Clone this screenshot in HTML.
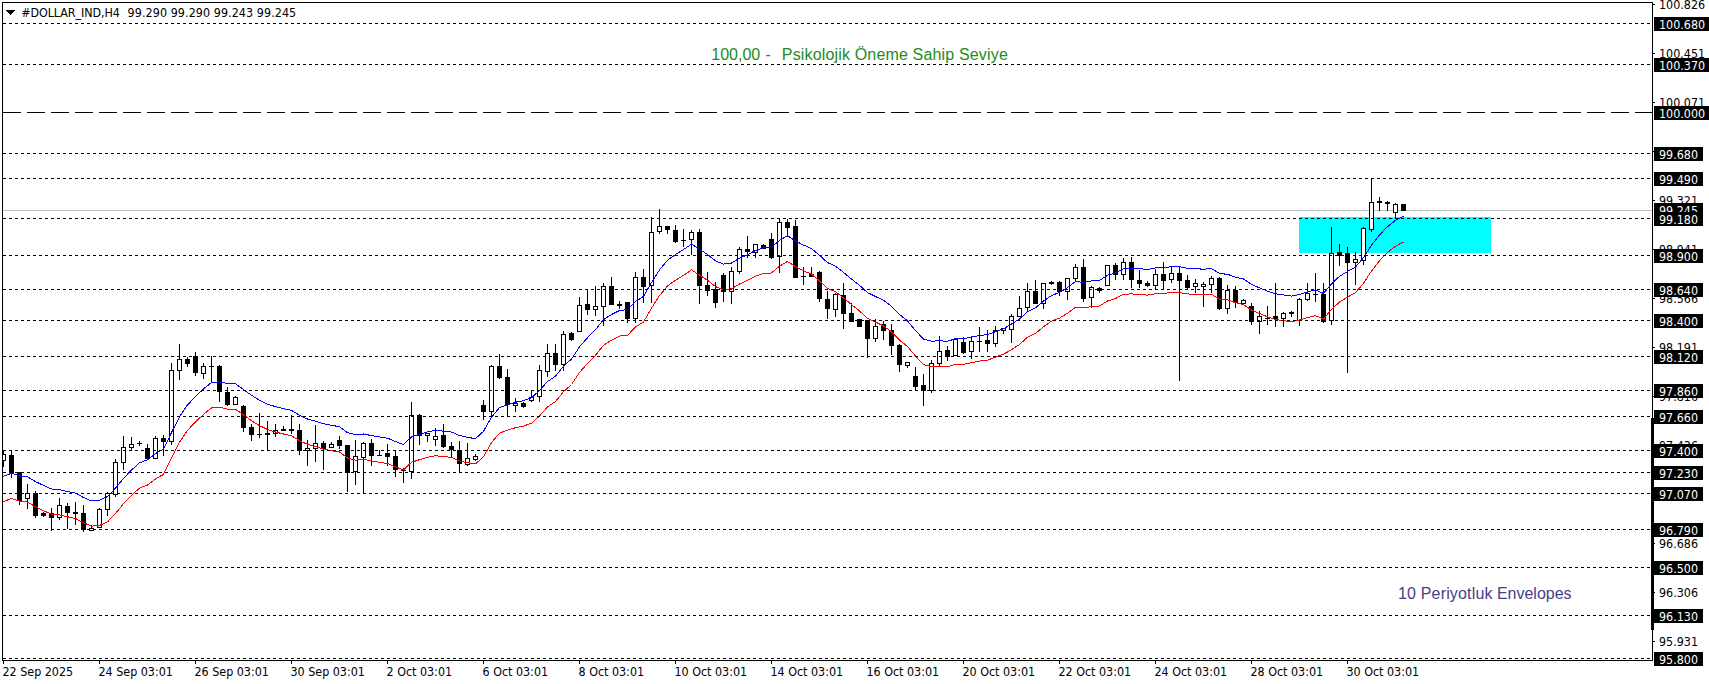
<!DOCTYPE html>
<html><head><meta charset="utf-8"><title>DOLLAR_IND H4</title><style>html,body{margin:0;padding:0;background:#fff;overflow:hidden}svg{display:block}</style></head><body>
<svg width="1709" height="684" viewBox="0 0 1709 684" shape-rendering="crispEdges">
<rect x="0" y="0" width="1709" height="684" fill="#fff"/>
<rect x="1299" y="217" width="192" height="36" fill="#00ffff"/>
<rect x="3" y="210" width="1649" height="1" fill="#c0c0c0"/>
<g fill="#000" clip-path="url(#plot)"><rect x="3" y="450" width="1" height="17"/><rect x="1" y="454" width="5" height="7"/><rect x="2" y="455" width="3" height="5" fill="#fff"/><rect x="11" y="450" width="1" height="28"/><rect x="9" y="455" width="5" height="18"/><rect x="19" y="472" width="1" height="33"/><rect x="17" y="472" width="5" height="29"/><rect x="27" y="484" width="1" height="25"/><rect x="25" y="493" width="5" height="6"/><rect x="26" y="494" width="3" height="4" fill="#fff"/><rect x="35" y="491" width="1" height="27"/><rect x="33" y="493" width="5" height="23"/><rect x="43" y="512" width="1" height="5"/><rect x="41" y="513" width="5" height="3"/><rect x="51" y="508" width="1" height="23"/><rect x="49" y="513" width="5" height="5"/><rect x="59" y="498" width="1" height="22"/><rect x="57" y="505" width="5" height="13"/><rect x="58" y="506" width="3" height="11" fill="#fff"/><rect x="67" y="503" width="1" height="26"/><rect x="65" y="506" width="5" height="7"/><rect x="75" y="502" width="1" height="23"/><rect x="73" y="512" width="5" height="2"/><rect x="83" y="505" width="1" height="27"/><rect x="81" y="513" width="5" height="17"/><rect x="91" y="525" width="1" height="6"/><rect x="89" y="528" width="5" height="3"/><rect x="90" y="529" width="3" height="1" fill="#fff"/><rect x="99" y="508" width="1" height="20"/><rect x="97" y="509" width="5" height="19"/><rect x="98" y="510" width="3" height="17" fill="#fff"/><rect x="107" y="492" width="1" height="24"/><rect x="105" y="493" width="5" height="17"/><rect x="106" y="494" width="3" height="15" fill="#fff"/><rect x="115" y="459" width="1" height="38"/><rect x="113" y="462" width="5" height="33"/><rect x="114" y="463" width="3" height="31" fill="#fff"/><rect x="123" y="436" width="1" height="34"/><rect x="121" y="447" width="5" height="16"/><rect x="122" y="448" width="3" height="14" fill="#fff"/><rect x="131" y="437" width="1" height="14"/><rect x="129" y="444" width="5" height="4"/><rect x="130" y="445" width="3" height="2" fill="#fff"/><rect x="139" y="441" width="1" height="5"/><rect x="137" y="443" width="5" height="1"/><rect x="147" y="444" width="1" height="15"/><rect x="145" y="448" width="5" height="11"/><rect x="155" y="436" width="1" height="23"/><rect x="153" y="438" width="5" height="21"/><rect x="154" y="439" width="3" height="19" fill="#fff"/><rect x="163" y="435" width="1" height="21"/><rect x="161" y="438" width="5" height="4"/><rect x="171" y="363" width="1" height="82"/><rect x="169" y="370" width="5" height="72"/><rect x="170" y="371" width="3" height="70" fill="#fff"/><rect x="179" y="344" width="1" height="36"/><rect x="177" y="359" width="5" height="12"/><rect x="178" y="360" width="3" height="10" fill="#fff"/><rect x="187" y="357" width="1" height="10"/><rect x="185" y="359" width="5" height="5"/><rect x="195" y="352" width="1" height="24"/><rect x="193" y="356" width="5" height="17"/><rect x="203" y="363" width="1" height="16"/><rect x="201" y="366" width="5" height="8"/><rect x="202" y="367" width="3" height="6" fill="#fff"/><rect x="211" y="356" width="1" height="26"/><rect x="209" y="366" width="5" height="1"/><rect x="219" y="365" width="1" height="37"/><rect x="217" y="366" width="5" height="26"/><rect x="227" y="387" width="1" height="19"/><rect x="225" y="392" width="5" height="13"/><rect x="235" y="396" width="1" height="9"/><rect x="233" y="397" width="5" height="8"/><rect x="234" y="398" width="3" height="6" fill="#fff"/><rect x="243" y="405" width="1" height="27"/><rect x="241" y="406" width="5" height="22"/><rect x="251" y="424" width="1" height="17"/><rect x="249" y="427" width="5" height="8"/><rect x="259" y="413" width="1" height="25"/><rect x="257" y="434" width="5" height="1"/><rect x="267" y="421" width="1" height="30"/><rect x="265" y="433" width="5" height="2"/><rect x="275" y="424" width="1" height="13"/><rect x="273" y="430" width="5" height="4"/><rect x="274" y="431" width="3" height="2" fill="#fff"/><rect x="283" y="426" width="1" height="5"/><rect x="281" y="429" width="5" height="2"/><rect x="291" y="415" width="1" height="19"/><rect x="289" y="429" width="5" height="2"/><rect x="299" y="424" width="1" height="31"/><rect x="297" y="430" width="5" height="21"/><rect x="307" y="440" width="1" height="26"/><rect x="305" y="448" width="5" height="3"/><rect x="306" y="449" width="3" height="1" fill="#fff"/><rect x="315" y="425" width="1" height="37"/><rect x="313" y="443" width="5" height="6"/><rect x="314" y="444" width="3" height="4" fill="#fff"/><rect x="323" y="441" width="1" height="29"/><rect x="321" y="443" width="5" height="6"/><rect x="331" y="442" width="1" height="6"/><rect x="329" y="444" width="5" height="4"/><rect x="330" y="445" width="3" height="2" fill="#fff"/><rect x="339" y="436" width="1" height="13"/><rect x="337" y="440" width="5" height="6"/><rect x="347" y="445" width="1" height="47"/><rect x="345" y="445" width="5" height="28"/><rect x="355" y="440" width="1" height="45"/><rect x="353" y="456" width="5" height="16"/><rect x="354" y="457" width="3" height="14" fill="#fff"/><rect x="363" y="442" width="1" height="52"/><rect x="361" y="443" width="5" height="15"/><rect x="362" y="444" width="3" height="13" fill="#fff"/><rect x="371" y="439" width="1" height="27"/><rect x="369" y="443" width="5" height="13"/><rect x="379" y="450" width="1" height="6"/><rect x="377" y="455" width="5" height="1"/><rect x="387" y="444" width="1" height="22"/><rect x="385" y="453" width="5" height="4"/><rect x="395" y="450" width="1" height="27"/><rect x="393" y="456" width="5" height="14"/><rect x="403" y="468" width="1" height="15"/><rect x="401" y="470" width="5" height="1"/><rect x="411" y="402" width="1" height="77"/><rect x="409" y="415" width="5" height="57"/><rect x="410" y="416" width="3" height="55" fill="#fff"/><rect x="419" y="414" width="1" height="31"/><rect x="417" y="415" width="5" height="21"/><rect x="427" y="433" width="1" height="9"/><rect x="425" y="433" width="5" height="3"/><rect x="426" y="434" width="3" height="1" fill="#fff"/><rect x="435" y="428" width="1" height="18"/><rect x="433" y="436" width="5" height="4"/><rect x="434" y="437" width="3" height="2" fill="#fff"/><rect x="443" y="424" width="1" height="24"/><rect x="441" y="435" width="5" height="12"/><rect x="451" y="442" width="1" height="15"/><rect x="449" y="446" width="5" height="4"/><rect x="459" y="441" width="1" height="32"/><rect x="457" y="450" width="5" height="14"/><rect x="467" y="443" width="1" height="23"/><rect x="465" y="458" width="5" height="7"/><rect x="466" y="459" width="3" height="5" fill="#fff"/><rect x="475" y="454" width="1" height="7"/><rect x="473" y="456" width="5" height="4"/><rect x="474" y="457" width="3" height="2" fill="#fff"/><rect x="483" y="400" width="1" height="20"/><rect x="481" y="405" width="5" height="7"/><rect x="491" y="365" width="1" height="52"/><rect x="489" y="366" width="5" height="46"/><rect x="490" y="367" width="3" height="44" fill="#fff"/><rect x="499" y="354" width="1" height="25"/><rect x="497" y="366" width="5" height="12"/><rect x="507" y="369" width="1" height="48"/><rect x="505" y="377" width="5" height="28"/><rect x="515" y="398" width="1" height="14"/><rect x="513" y="403" width="5" height="3"/><rect x="514" y="404" width="3" height="1" fill="#fff"/><rect x="523" y="402" width="1" height="6"/><rect x="521" y="403" width="5" height="4"/><rect x="531" y="390" width="1" height="12"/><rect x="529" y="397" width="5" height="4"/><rect x="530" y="398" width="3" height="2" fill="#fff"/><rect x="539" y="365" width="1" height="37"/><rect x="537" y="370" width="5" height="27"/><rect x="538" y="371" width="3" height="25" fill="#fff"/><rect x="547" y="344" width="1" height="33"/><rect x="545" y="353" width="5" height="19"/><rect x="546" y="354" width="3" height="17" fill="#fff"/><rect x="555" y="344" width="1" height="27"/><rect x="553" y="353" width="5" height="12"/><rect x="563" y="331" width="1" height="40"/><rect x="561" y="334" width="5" height="31"/><rect x="562" y="335" width="3" height="29" fill="#fff"/><rect x="571" y="332" width="1" height="9"/><rect x="569" y="333" width="5" height="7"/><rect x="579" y="297" width="1" height="35"/><rect x="577" y="305" width="5" height="27"/><rect x="578" y="306" width="3" height="25" fill="#fff"/><rect x="587" y="290" width="1" height="25"/><rect x="585" y="304" width="5" height="6"/><rect x="595" y="286" width="1" height="30"/><rect x="593" y="306" width="5" height="4"/><rect x="594" y="307" width="3" height="2" fill="#fff"/><rect x="603" y="283" width="1" height="43"/><rect x="601" y="286" width="5" height="21"/><rect x="602" y="287" width="3" height="19" fill="#fff"/><rect x="611" y="277" width="1" height="28"/><rect x="609" y="286" width="5" height="19"/><rect x="619" y="301" width="1" height="8"/><rect x="617" y="304" width="5" height="2"/><rect x="627" y="302" width="1" height="21"/><rect x="625" y="302" width="5" height="17"/><rect x="635" y="272" width="1" height="51"/><rect x="633" y="277" width="5" height="42"/><rect x="634" y="278" width="3" height="40" fill="#fff"/><rect x="643" y="269" width="1" height="34"/><rect x="641" y="277" width="5" height="10"/><rect x="651" y="217" width="1" height="86"/><rect x="649" y="232" width="5" height="54"/><rect x="650" y="233" width="3" height="52" fill="#fff"/><rect x="659" y="209" width="1" height="25"/><rect x="657" y="226" width="5" height="6"/><rect x="658" y="227" width="3" height="4" fill="#fff"/><rect x="667" y="226" width="1" height="8"/><rect x="665" y="226" width="5" height="4"/><rect x="675" y="225" width="1" height="18"/><rect x="673" y="230" width="5" height="12"/><rect x="683" y="229" width="1" height="18"/><rect x="681" y="240" width="5" height="1"/><rect x="691" y="230" width="1" height="25"/><rect x="689" y="232" width="5" height="8"/><rect x="690" y="233" width="3" height="6" fill="#fff"/><rect x="699" y="229" width="1" height="75"/><rect x="697" y="232" width="5" height="54"/><rect x="707" y="272" width="1" height="24"/><rect x="705" y="285" width="5" height="6"/><rect x="715" y="282" width="1" height="26"/><rect x="713" y="289" width="5" height="14"/><rect x="723" y="273" width="1" height="29"/><rect x="721" y="275" width="5" height="17"/><rect x="731" y="267" width="1" height="37"/><rect x="729" y="271" width="5" height="21"/><rect x="730" y="272" width="3" height="19" fill="#fff"/><rect x="739" y="247" width="1" height="27"/><rect x="737" y="249" width="5" height="23"/><rect x="738" y="250" width="3" height="21" fill="#fff"/><rect x="747" y="236" width="1" height="22"/><rect x="745" y="249" width="5" height="3"/><rect x="755" y="244" width="1" height="14"/><rect x="753" y="244" width="5" height="9"/><rect x="754" y="245" width="3" height="7" fill="#fff"/><rect x="763" y="244" width="1" height="5"/><rect x="761" y="245" width="5" height="4"/><rect x="771" y="233" width="1" height="26"/><rect x="769" y="239" width="5" height="19"/><rect x="779" y="218" width="1" height="55"/><rect x="777" y="222" width="5" height="35"/><rect x="778" y="223" width="3" height="33" fill="#fff"/><rect x="787" y="219" width="1" height="18"/><rect x="785" y="222" width="5" height="6"/><rect x="795" y="220" width="1" height="58"/><rect x="793" y="226" width="5" height="52"/><rect x="803" y="267" width="1" height="18"/><rect x="801" y="276" width="5" height="1"/><rect x="811" y="267" width="1" height="10"/><rect x="809" y="274" width="5" height="3"/><rect x="819" y="271" width="1" height="31"/><rect x="817" y="272" width="5" height="27"/><rect x="827" y="291" width="1" height="28"/><rect x="825" y="299" width="5" height="10"/><rect x="835" y="293" width="1" height="24"/><rect x="833" y="294" width="5" height="16"/><rect x="834" y="295" width="3" height="14" fill="#fff"/><rect x="843" y="283" width="1" height="46"/><rect x="841" y="295" width="5" height="19"/><rect x="851" y="303" width="1" height="19"/><rect x="849" y="313" width="5" height="9"/><rect x="859" y="319" width="1" height="8"/><rect x="857" y="319" width="5" height="8"/><rect x="867" y="320" width="1" height="38"/><rect x="865" y="320" width="5" height="19"/><rect x="875" y="319" width="1" height="23"/><rect x="873" y="326" width="5" height="13"/><rect x="874" y="327" width="3" height="11" fill="#fff"/><rect x="883" y="321" width="1" height="19"/><rect x="881" y="324" width="5" height="7"/><rect x="891" y="324" width="1" height="31"/><rect x="889" y="330" width="5" height="16"/><rect x="899" y="344" width="1" height="28"/><rect x="897" y="345" width="5" height="20"/><rect x="907" y="362" width="1" height="6"/><rect x="905" y="362" width="5" height="4"/><rect x="906" y="363" width="3" height="2" fill="#fff"/><rect x="915" y="367" width="1" height="24"/><rect x="913" y="376" width="5" height="11"/><rect x="923" y="374" width="1" height="32"/><rect x="921" y="385" width="5" height="6"/><rect x="931" y="360" width="1" height="33"/><rect x="929" y="363" width="5" height="28"/><rect x="930" y="364" width="3" height="26" fill="#fff"/><rect x="939" y="336" width="1" height="31"/><rect x="937" y="351" width="5" height="13"/><rect x="938" y="352" width="3" height="11" fill="#fff"/><rect x="947" y="346" width="1" height="15"/><rect x="945" y="350" width="5" height="7"/><rect x="955" y="338" width="1" height="18"/><rect x="953" y="339" width="5" height="17"/><rect x="954" y="340" width="3" height="15" fill="#fff"/><rect x="963" y="337" width="1" height="17"/><rect x="961" y="342" width="5" height="11"/><rect x="971" y="336" width="1" height="23"/><rect x="969" y="341" width="5" height="11"/><rect x="970" y="342" width="3" height="9" fill="#fff"/><rect x="979" y="327" width="1" height="25"/><rect x="977" y="341" width="5" height="1"/><rect x="987" y="330" width="1" height="22"/><rect x="985" y="340" width="5" height="4"/><rect x="995" y="326" width="1" height="21"/><rect x="993" y="330" width="5" height="14"/><rect x="994" y="331" width="3" height="12" fill="#fff"/><rect x="1003" y="328" width="1" height="6"/><rect x="1001" y="328" width="5" height="3"/><rect x="1002" y="329" width="3" height="1" fill="#fff"/><rect x="1011" y="314" width="1" height="29"/><rect x="1009" y="316" width="5" height="14"/><rect x="1010" y="317" width="3" height="12" fill="#fff"/><rect x="1019" y="296" width="1" height="21"/><rect x="1017" y="308" width="5" height="9"/><rect x="1018" y="309" width="3" height="7" fill="#fff"/><rect x="1027" y="283" width="1" height="28"/><rect x="1025" y="291" width="5" height="17"/><rect x="1026" y="292" width="3" height="15" fill="#fff"/><rect x="1035" y="280" width="1" height="24"/><rect x="1033" y="291" width="5" height="13"/><rect x="1043" y="283" width="1" height="26"/><rect x="1041" y="283" width="5" height="21"/><rect x="1042" y="284" width="3" height="19" fill="#fff"/><rect x="1051" y="281" width="1" height="4"/><rect x="1049" y="282" width="5" height="2"/><rect x="1059" y="281" width="1" height="15"/><rect x="1057" y="282" width="5" height="10"/><rect x="1067" y="278" width="1" height="22"/><rect x="1065" y="278" width="5" height="14"/><rect x="1066" y="279" width="3" height="12" fill="#fff"/><rect x="1075" y="264" width="1" height="18"/><rect x="1073" y="267" width="5" height="12"/><rect x="1074" y="268" width="3" height="10" fill="#fff"/><rect x="1083" y="259" width="1" height="43"/><rect x="1081" y="267" width="5" height="32"/><rect x="1091" y="286" width="1" height="22"/><rect x="1089" y="287" width="5" height="11"/><rect x="1090" y="288" width="3" height="9" fill="#fff"/><rect x="1099" y="287" width="1" height="6"/><rect x="1097" y="288" width="5" height="3"/><rect x="1107" y="265" width="1" height="21"/><rect x="1105" y="265" width="5" height="21"/><rect x="1106" y="266" width="3" height="19" fill="#fff"/><rect x="1115" y="263" width="1" height="17"/><rect x="1113" y="265" width="5" height="10"/><rect x="1123" y="258" width="1" height="22"/><rect x="1121" y="262" width="5" height="13"/><rect x="1122" y="263" width="3" height="11" fill="#fff"/><rect x="1131" y="257" width="1" height="31"/><rect x="1129" y="262" width="5" height="18"/><rect x="1139" y="270" width="1" height="18"/><rect x="1137" y="280" width="5" height="4"/><rect x="1147" y="281" width="1" height="6"/><rect x="1145" y="283" width="5" height="3"/><rect x="1155" y="269" width="1" height="21"/><rect x="1153" y="274" width="5" height="12"/><rect x="1154" y="275" width="3" height="10" fill="#fff"/><rect x="1163" y="262" width="1" height="28"/><rect x="1161" y="274" width="5" height="7"/><rect x="1171" y="267" width="1" height="16"/><rect x="1169" y="273" width="5" height="7"/><rect x="1170" y="274" width="3" height="5" fill="#fff"/><rect x="1179" y="266" width="1" height="115"/><rect x="1177" y="273" width="5" height="8"/><rect x="1187" y="275" width="1" height="14"/><rect x="1185" y="280" width="5" height="8"/><rect x="1195" y="279" width="1" height="14"/><rect x="1193" y="283" width="5" height="4"/><rect x="1194" y="284" width="3" height="2" fill="#fff"/><rect x="1203" y="282" width="1" height="25"/><rect x="1201" y="284" width="5" height="3"/><rect x="1202" y="285" width="3" height="1" fill="#fff"/><rect x="1211" y="276" width="1" height="17"/><rect x="1209" y="278" width="5" height="7"/><rect x="1210" y="279" width="3" height="5" fill="#fff"/><rect x="1219" y="277" width="1" height="33"/><rect x="1217" y="278" width="5" height="31"/><rect x="1227" y="285" width="1" height="29"/><rect x="1225" y="290" width="5" height="19"/><rect x="1226" y="291" width="3" height="17" fill="#fff"/><rect x="1235" y="286" width="1" height="22"/><rect x="1233" y="290" width="5" height="13"/><rect x="1243" y="299" width="1" height="5"/><rect x="1241" y="300" width="5" height="4"/><rect x="1242" y="301" width="3" height="2" fill="#fff"/><rect x="1251" y="303" width="1" height="22"/><rect x="1249" y="306" width="5" height="16"/><rect x="1259" y="311" width="1" height="23"/><rect x="1257" y="316" width="5" height="6"/><rect x="1258" y="317" width="3" height="4" fill="#fff"/><rect x="1267" y="306" width="1" height="19"/><rect x="1265" y="318" width="5" height="1"/><rect x="1275" y="283" width="1" height="44"/><rect x="1273" y="316" width="5" height="3"/><rect x="1283" y="312" width="1" height="15"/><rect x="1281" y="313" width="5" height="6"/><rect x="1282" y="314" width="3" height="4" fill="#fff"/><rect x="1291" y="311" width="1" height="6"/><rect x="1289" y="312" width="5" height="2"/><rect x="1299" y="298" width="1" height="28"/><rect x="1297" y="299" width="5" height="22"/><rect x="1298" y="300" width="3" height="20" fill="#fff"/><rect x="1307" y="283" width="1" height="18"/><rect x="1305" y="293" width="5" height="7"/><rect x="1306" y="294" width="3" height="5" fill="#fff"/><rect x="1315" y="273" width="1" height="29"/><rect x="1313" y="294" width="5" height="1"/><rect x="1323" y="283" width="1" height="40"/><rect x="1321" y="294" width="5" height="28"/><rect x="1331" y="227" width="1" height="98"/><rect x="1329" y="253" width="5" height="68"/><rect x="1330" y="254" width="3" height="66" fill="#fff"/><rect x="1339" y="244" width="1" height="22"/><rect x="1337" y="252" width="5" height="4"/><rect x="1347" y="247" width="1" height="126"/><rect x="1345" y="253" width="5" height="10"/><rect x="1355" y="252" width="1" height="33"/><rect x="1353" y="259" width="5" height="4"/><rect x="1354" y="260" width="3" height="2" fill="#fff"/><rect x="1363" y="227" width="1" height="38"/><rect x="1361" y="228" width="5" height="33"/><rect x="1362" y="229" width="3" height="31" fill="#fff"/><rect x="1371" y="178" width="1" height="54"/><rect x="1369" y="202" width="5" height="28"/><rect x="1370" y="203" width="3" height="26" fill="#fff"/><rect x="1379" y="197" width="1" height="14"/><rect x="1377" y="201" width="5" height="2"/><rect x="1387" y="201" width="1" height="10"/><rect x="1385" y="202" width="5" height="2"/><rect x="1395" y="203" width="1" height="16"/><rect x="1393" y="204" width="5" height="9"/><rect x="1394" y="205" width="3" height="7" fill="#fff"/><rect x="1403" y="204" width="1" height="7"/><rect x="1401" y="204" width="5" height="7"/></g>
<g clip-path="url(#plot)">
<polyline fill="none" stroke="#0000ff" stroke-width="1" points="-4.5,483.9 3.5,476.2 11.5,473.3 19.5,475.9 27.5,476.8 35.5,481.6 43.5,485.4 51.5,489.0 59.5,489.7 67.5,491.5 75.5,493.2 83.5,497.5 91.5,500.9 99.5,500.2 107.5,496.6 115.5,488.1 123.5,478.4 131.5,470.0 139.5,462.8 147.5,459.8 155.5,453.6 163.5,449.1 171.5,432.5 179.5,416.9 187.5,404.9 195.5,396.7 203.5,388.9 211.5,382.5 219.5,381.8 227.5,383.6 235.5,383.8 243.5,389.5 251.5,395.3 259.5,400.2 267.5,404.1 275.5,406.6 283.5,408.6 291.5,410.3 299.5,415.3 307.5,419.0 315.5,421.2 323.5,423.8 331.5,425.3 339.5,426.7 347.5,432.7 355.5,434.7 363.5,434.0 371.5,435.6 379.5,436.9 387.5,438.2 395.5,441.6 403.5,444.5 411.5,436.9 419.5,434.4 427.5,431.9 435.5,430.4 443.5,431.1 451.5,432.1 459.5,435.5 467.5,437.4 475.5,438.6 483.5,431.3 491.5,417.2 499.5,407.7 507.5,404.8 515.5,402.2 523.5,400.7 531.5,397.8 539.5,390.5 547.5,381.5 555.5,376.1 563.5,366.2 571.5,359.0 579.5,346.9 587.5,337.8 595.5,329.8 603.5,319.6 611.5,314.5 619.5,310.5 627.5,309.7 635.5,301.5 643.5,296.4 651.5,282.5 659.5,269.9 667.5,260.2 675.5,254.5 683.5,249.6 691.5,244.1 699.5,249.3 707.5,254.5 715.5,260.9 723.5,264.1 731.5,263.1 739.5,258.3 747.5,254.7 755.5,250.5 763.5,247.8 771.5,247.2 779.5,240.4 787.5,235.7 795.5,241.0 803.5,245.1 811.5,248.5 819.5,255.2 827.5,262.6 835.5,266.1 843.5,272.4 851.5,279.0 859.5,285.3 867.5,292.6 875.5,296.5 883.5,300.3 891.5,306.2 899.5,314.5 907.5,320.9 915.5,330.5 923.5,339.1 931.5,341.2 939.5,340.8 947.5,341.3 955.5,338.7 963.5,338.8 971.5,337.0 979.5,335.5 987.5,334.6 995.5,331.6 1003.5,328.7 1011.5,324.1 1019.5,319.0 1027.5,311.6 1035.5,307.8 1043.5,301.1 1051.5,295.5 1059.5,292.5 1067.5,287.6 1075.5,281.6 1083.5,282.3 1091.5,280.9 1099.5,280.4 1107.5,275.3 1115.5,272.8 1123.5,268.6 1131.5,268.3 1139.5,268.7 1147.5,269.4 1155.5,268.0 1163.5,267.9 1171.5,266.6 1179.5,266.8 1187.5,268.2 1195.5,268.7 1203.5,269.2 1211.5,268.6 1219.5,273.5 1227.5,274.3 1235.5,277.1 1243.5,279.0 1251.5,284.4 1259.5,287.9 1267.5,291.1 1275.5,293.8 1283.5,295.0 1291.5,296.1 1299.5,294.4 1307.5,291.9 1315.5,290.0 1323.5,293.4 1331.5,283.8 1339.5,276.3 1347.5,271.5 1355.5,267.0 1363.5,257.6 1371.5,245.3 1379.5,234.9 1387.5,226.7 1395.5,220.3 1403.5,216.2"/>
<polyline fill="none" stroke="#ff0000" stroke-width="1" points="-4.5,509.1 3.5,501.5 11.5,498.5 19.5,501.2 27.5,502.1 35.5,506.8 43.5,510.7 51.5,514.2 59.5,514.9 67.5,516.8 75.5,518.5 83.5,522.8 91.5,526.1 99.5,525.4 107.5,521.9 115.5,513.4 123.5,503.7 131.5,495.2 139.5,488.1 147.5,485.1 155.5,478.9 163.5,474.4 171.5,457.8 179.5,442.3 187.5,430.3 195.5,422.1 203.5,414.3 211.5,407.9 219.5,407.3 227.5,409.1 235.5,409.3 243.5,414.9 251.5,420.8 259.5,425.6 267.5,429.5 275.5,432.0 283.5,434.0 291.5,435.7 299.5,440.7 307.5,444.4 315.5,446.6 323.5,449.2 331.5,450.7 339.5,452.0 347.5,458.1 355.5,460.1 363.5,459.4 371.5,461.0 379.5,462.3 387.5,463.5 395.5,466.9 403.5,469.9 411.5,462.3 419.5,459.7 427.5,457.3 435.5,455.8 443.5,456.4 451.5,457.5 459.5,460.9 467.5,462.7 475.5,463.9 483.5,456.7 491.5,442.6 499.5,433.1 507.5,430.2 515.5,427.7 523.5,426.1 531.5,423.2 539.5,416.0 547.5,406.9 555.5,401.5 563.5,391.7 571.5,384.5 579.5,372.5 587.5,363.4 595.5,355.3 603.5,345.2 611.5,340.1 619.5,336.1 627.5,335.3 635.5,327.1 643.5,322.0 651.5,308.1 659.5,295.6 667.5,285.9 675.5,280.2 683.5,275.3 691.5,269.9 699.5,275.1 707.5,280.2 715.5,286.6 723.5,289.8 731.5,288.8 739.5,284.0 747.5,280.4 755.5,276.2 763.5,273.5 771.5,273.0 779.5,266.1 787.5,261.5 795.5,266.7 803.5,270.8 811.5,274.2 819.5,280.9 827.5,288.3 835.5,291.7 843.5,298.0 851.5,304.6 859.5,310.9 867.5,318.3 875.5,322.1 883.5,325.9 891.5,331.8 899.5,340.1 907.5,346.5 915.5,356.1 923.5,364.6 931.5,366.8 939.5,366.3 947.5,366.8 955.5,364.2 963.5,364.4 971.5,362.6 979.5,361.1 987.5,360.2 995.5,357.1 1003.5,354.2 1011.5,349.7 1019.5,344.5 1027.5,337.2 1035.5,333.4 1043.5,326.7 1051.5,321.2 1059.5,318.1 1067.5,313.2 1075.5,307.3 1083.5,308.0 1091.5,306.6 1099.5,306.0 1107.5,301.0 1115.5,298.5 1123.5,294.3 1131.5,293.9 1139.5,294.4 1147.5,295.1 1155.5,293.7 1163.5,293.6 1171.5,292.3 1179.5,292.5 1187.5,293.9 1195.5,294.4 1203.5,294.9 1211.5,294.3 1219.5,299.2 1227.5,299.9 1235.5,302.7 1243.5,304.7 1251.5,310.0 1259.5,313.5 1267.5,316.8 1275.5,319.4 1283.5,320.7 1291.5,321.7 1299.5,320.0 1307.5,317.5 1315.5,315.7 1323.5,319.0 1331.5,309.5 1339.5,302.0 1347.5,297.2 1355.5,292.6 1363.5,283.3 1371.5,271.0 1379.5,260.7 1387.5,252.5 1395.5,246.1 1403.5,242.0"/>
</g>
<line x1="3" y1="23.5" x2="1652" y2="23.5" stroke="#000" stroke-dasharray="3 3"/>
<line x1="3" y1="64.5" x2="1652" y2="64.5" stroke="#000" stroke-dasharray="3 3"/>
<line x1="3" y1="112.5" x2="1652" y2="112.5" stroke="#000" stroke-dasharray="18 6"/>
<line x1="3" y1="153.5" x2="1652" y2="153.5" stroke="#000" stroke-dasharray="3 3"/>
<line x1="3" y1="178.5" x2="1652" y2="178.5" stroke="#000" stroke-dasharray="3 3"/>
<line x1="3" y1="218.5" x2="1652" y2="218.5" stroke="#000" stroke-dasharray="3 3"/>
<line x1="3" y1="255.5" x2="1652" y2="255.5" stroke="#000" stroke-dasharray="3 3"/>
<line x1="3" y1="289.5" x2="1652" y2="289.5" stroke="#000" stroke-dasharray="3 3"/>
<line x1="3" y1="320.5" x2="1652" y2="320.5" stroke="#000" stroke-dasharray="3 3"/>
<line x1="3" y1="356.5" x2="1652" y2="356.5" stroke="#000" stroke-dasharray="3 3"/>
<line x1="3" y1="390.5" x2="1652" y2="390.5" stroke="#000" stroke-dasharray="3 3"/>
<line x1="3" y1="416.5" x2="1652" y2="416.5" stroke="#000" stroke-dasharray="3 3"/>
<line x1="3" y1="450.5" x2="1652" y2="450.5" stroke="#000" stroke-dasharray="3 3"/>
<line x1="3" y1="472.5" x2="1652" y2="472.5" stroke="#000" stroke-dasharray="3 3"/>
<line x1="3" y1="493.5" x2="1652" y2="493.5" stroke="#000" stroke-dasharray="3 3"/>
<line x1="3" y1="529.5" x2="1652" y2="529.5" stroke="#000" stroke-dasharray="3 3"/>
<line x1="3" y1="567.5" x2="1652" y2="567.5" stroke="#000" stroke-dasharray="3 3"/>
<line x1="3" y1="615.5" x2="1652" y2="615.5" stroke="#000" stroke-dasharray="3 3"/>
<line x1="3" y1="658.5" x2="1652" y2="658.5" stroke="#000" stroke-dasharray="3 3"/>
<text y="60" font-family="Liberation Sans, Arial, sans-serif" font-size="16" fill="#228b22" xml:space="preserve"><tspan x="711.3">100,00</tspan><tspan x="765.4">-</tspan><tspan x="781.8" textLength="226" lengthAdjust="spacing">Psikolojik Öneme Sahip Seviye</tspan></text>
<text y="599" font-family="Liberation Sans, Arial, sans-serif" font-size="16" fill="#483d8b"><tspan x="1398" textLength="94.5" lengthAdjust="spacing">10 Periyotluk</tspan><tspan x="1496.9">Envelopes</tspan></text>
<rect x="6" y="10" width="9" height="1" fill="#000"/>
<rect x="7" y="11" width="7" height="1" fill="#000"/>
<rect x="8" y="12" width="5" height="1" fill="#000"/>
<rect x="9" y="13" width="3" height="1" fill="#000"/>
<rect x="10" y="14" width="1" height="1" fill="#000"/>
<text y="17" font-family="DejaVu Sans" font-stretch="condensed" font-size="12.4" fill="#000"><tspan x="21.2" textLength="98.6" lengthAdjust="spacing">#DOLLAR_IND,H4</tspan><tspan x="127.6" textLength="168.6" lengthAdjust="spacing">99.290 99.290 99.243 99.245</tspan></text>
<rect x="2" y="2" width="1651" height="1" fill="#000"/>
<rect x="2" y="2" width="1" height="659" fill="#000"/>
<rect x="1652" y="2" width="1" height="659" fill="#000"/>
<rect x="2" y="660" width="1651" height="1" fill="#000"/>
<rect x="1651" y="418" width="3" height="212" fill="#000"/>
<rect x="1653" y="4" width="2" height="1" fill="#000"/>
<text x="1659" y="9" font-family="DejaVu Sans" font-stretch="condensed" font-size="12.4" fill="#000">100.826</text>
<rect x="1653" y="53" width="2" height="1" fill="#000"/>
<text x="1659" y="58" font-family="DejaVu Sans" font-stretch="condensed" font-size="12.4" fill="#000">100.451</text>
<rect x="1653" y="102" width="2" height="1" fill="#000"/>
<text x="1659" y="107" font-family="DejaVu Sans" font-stretch="condensed" font-size="12.4" fill="#000">100.071</text>
<rect x="1653" y="151" width="2" height="1" fill="#000"/>
<text x="1659" y="156" font-family="DejaVu Sans" font-stretch="condensed" font-size="12.4" fill="#000">99.696</text>
<rect x="1653" y="200" width="2" height="1" fill="#000"/>
<text x="1659" y="205" font-family="DejaVu Sans" font-stretch="condensed" font-size="12.4" fill="#000">99.321</text>
<rect x="1653" y="249" width="2" height="1" fill="#000"/>
<text x="1659" y="254" font-family="DejaVu Sans" font-stretch="condensed" font-size="12.4" fill="#000">98.941</text>
<rect x="1653" y="298" width="2" height="1" fill="#000"/>
<text x="1659" y="303" font-family="DejaVu Sans" font-stretch="condensed" font-size="12.4" fill="#000">98.566</text>
<rect x="1653" y="347" width="2" height="1" fill="#000"/>
<text x="1659" y="352" font-family="DejaVu Sans" font-stretch="condensed" font-size="12.4" fill="#000">98.191</text>
<rect x="1653" y="396" width="2" height="1" fill="#000"/>
<text x="1659" y="401" font-family="DejaVu Sans" font-stretch="condensed" font-size="12.4" fill="#000">97.816</text>
<rect x="1653" y="445" width="2" height="1" fill="#000"/>
<text x="1659" y="450" font-family="DejaVu Sans" font-stretch="condensed" font-size="12.4" fill="#000">97.436</text>
<rect x="1653" y="494" width="2" height="1" fill="#000"/>
<text x="1659" y="499" font-family="DejaVu Sans" font-stretch="condensed" font-size="12.4" fill="#000">97.061</text>
<rect x="1653" y="543" width="2" height="1" fill="#000"/>
<text x="1659" y="548" font-family="DejaVu Sans" font-stretch="condensed" font-size="12.4" fill="#000">96.686</text>
<rect x="1653" y="592" width="2" height="1" fill="#000"/>
<text x="1659" y="597" font-family="DejaVu Sans" font-stretch="condensed" font-size="12.4" fill="#000">96.306</text>
<rect x="1653" y="641" width="2" height="1" fill="#000"/>
<text x="1659" y="646" font-family="DejaVu Sans" font-stretch="condensed" font-size="12.4" fill="#000">95.931</text>
<rect x="1654" y="203" width="49" height="14" fill="#000"/>
<text x="1659" y="215" font-family="DejaVu Sans" font-stretch="condensed" font-size="12.4" fill="#fff">99.245</text>
<rect x="1654" y="17" width="55" height="14" fill="#000"/>
<text x="1659" y="29" font-family="DejaVu Sans" font-stretch="condensed" font-size="12.4" fill="#fff">100.680</text>
<rect x="1654" y="58" width="55" height="14" fill="#000"/>
<text x="1659" y="70" font-family="DejaVu Sans" font-stretch="condensed" font-size="12.4" fill="#fff">100.370</text>
<rect x="1654" y="106" width="55" height="14" fill="#000"/>
<text x="1659" y="118" font-family="DejaVu Sans" font-stretch="condensed" font-size="12.4" fill="#fff">100.000</text>
<rect x="1654" y="147" width="49" height="14" fill="#000"/>
<text x="1659" y="159" font-family="DejaVu Sans" font-stretch="condensed" font-size="12.4" fill="#fff">99.680</text>
<rect x="1654" y="172" width="49" height="14" fill="#000"/>
<text x="1659" y="184" font-family="DejaVu Sans" font-stretch="condensed" font-size="12.4" fill="#fff">99.490</text>
<rect x="1654" y="212" width="49" height="14" fill="#000"/>
<text x="1659" y="224" font-family="DejaVu Sans" font-stretch="condensed" font-size="12.4" fill="#fff">99.180</text>
<rect x="1654" y="249" width="49" height="14" fill="#000"/>
<text x="1659" y="261" font-family="DejaVu Sans" font-stretch="condensed" font-size="12.4" fill="#fff">98.900</text>
<rect x="1654" y="283" width="49" height="14" fill="#000"/>
<text x="1659" y="295" font-family="DejaVu Sans" font-stretch="condensed" font-size="12.4" fill="#fff">98.640</text>
<rect x="1654" y="314" width="49" height="14" fill="#000"/>
<text x="1659" y="326" font-family="DejaVu Sans" font-stretch="condensed" font-size="12.4" fill="#fff">98.400</text>
<rect x="1654" y="350" width="49" height="14" fill="#000"/>
<text x="1659" y="362" font-family="DejaVu Sans" font-stretch="condensed" font-size="12.4" fill="#fff">98.120</text>
<rect x="1654" y="384" width="49" height="14" fill="#000"/>
<text x="1659" y="396" font-family="DejaVu Sans" font-stretch="condensed" font-size="12.4" fill="#fff">97.860</text>
<rect x="1654" y="410" width="49" height="14" fill="#000"/>
<text x="1659" y="422" font-family="DejaVu Sans" font-stretch="condensed" font-size="12.4" fill="#fff">97.660</text>
<rect x="1654" y="444" width="49" height="14" fill="#000"/>
<text x="1659" y="456" font-family="DejaVu Sans" font-stretch="condensed" font-size="12.4" fill="#fff">97.400</text>
<rect x="1654" y="466" width="49" height="14" fill="#000"/>
<text x="1659" y="478" font-family="DejaVu Sans" font-stretch="condensed" font-size="12.4" fill="#fff">97.230</text>
<rect x="1654" y="487" width="49" height="14" fill="#000"/>
<text x="1659" y="499" font-family="DejaVu Sans" font-stretch="condensed" font-size="12.4" fill="#fff">97.070</text>
<rect x="1654" y="523" width="49" height="14" fill="#000"/>
<text x="1659" y="535" font-family="DejaVu Sans" font-stretch="condensed" font-size="12.4" fill="#fff">96.790</text>
<rect x="1654" y="561" width="49" height="14" fill="#000"/>
<text x="1659" y="573" font-family="DejaVu Sans" font-stretch="condensed" font-size="12.4" fill="#fff">96.500</text>
<rect x="1654" y="609" width="49" height="14" fill="#000"/>
<text x="1659" y="621" font-family="DejaVu Sans" font-stretch="condensed" font-size="12.4" fill="#fff">96.130</text>
<rect x="1654" y="652" width="49" height="14" fill="#000"/>
<text x="1659" y="664" font-family="DejaVu Sans" font-stretch="condensed" font-size="12.4" fill="#fff">95.800</text>
<rect x="3" y="661" width="1" height="3" fill="#000"/>
<text x="2.5" y="676" font-family="DejaVu Sans" font-stretch="condensed" font-size="12.4" fill="#000">22 Sep 2025</text>
<rect x="99" y="661" width="1" height="3" fill="#000"/>
<text x="98.5" y="676" font-family="DejaVu Sans" font-stretch="condensed" font-size="12.4" fill="#000">24 Sep 03:01</text>
<rect x="195" y="661" width="1" height="3" fill="#000"/>
<text x="194.5" y="676" font-family="DejaVu Sans" font-stretch="condensed" font-size="12.4" fill="#000">26 Sep 03:01</text>
<rect x="291" y="661" width="1" height="3" fill="#000"/>
<text x="290.5" y="676" font-family="DejaVu Sans" font-stretch="condensed" font-size="12.4" fill="#000">30 Sep 03:01</text>
<rect x="387" y="661" width="1" height="3" fill="#000"/>
<text x="386.5" y="676" font-family="DejaVu Sans" font-stretch="condensed" font-size="12.4" fill="#000">2 Oct 03:01</text>
<rect x="483" y="661" width="1" height="3" fill="#000"/>
<text x="482.5" y="676" font-family="DejaVu Sans" font-stretch="condensed" font-size="12.4" fill="#000">6 Oct 03:01</text>
<rect x="579" y="661" width="1" height="3" fill="#000"/>
<text x="578.5" y="676" font-family="DejaVu Sans" font-stretch="condensed" font-size="12.4" fill="#000">8 Oct 03:01</text>
<rect x="675" y="661" width="1" height="3" fill="#000"/>
<text x="674.5" y="676" font-family="DejaVu Sans" font-stretch="condensed" font-size="12.4" fill="#000">10 Oct 03:01</text>
<rect x="771" y="661" width="1" height="3" fill="#000"/>
<text x="770.5" y="676" font-family="DejaVu Sans" font-stretch="condensed" font-size="12.4" fill="#000">14 Oct 03:01</text>
<rect x="867" y="661" width="1" height="3" fill="#000"/>
<text x="866.5" y="676" font-family="DejaVu Sans" font-stretch="condensed" font-size="12.4" fill="#000">16 Oct 03:01</text>
<rect x="963" y="661" width="1" height="3" fill="#000"/>
<text x="962.5" y="676" font-family="DejaVu Sans" font-stretch="condensed" font-size="12.4" fill="#000">20 Oct 03:01</text>
<rect x="1059" y="661" width="1" height="3" fill="#000"/>
<text x="1058.5" y="676" font-family="DejaVu Sans" font-stretch="condensed" font-size="12.4" fill="#000">22 Oct 03:01</text>
<rect x="1155" y="661" width="1" height="3" fill="#000"/>
<text x="1154.5" y="676" font-family="DejaVu Sans" font-stretch="condensed" font-size="12.4" fill="#000">24 Oct 03:01</text>
<rect x="1251" y="661" width="1" height="3" fill="#000"/>
<text x="1250.5" y="676" font-family="DejaVu Sans" font-stretch="condensed" font-size="12.4" fill="#000">28 Oct 03:01</text>
<rect x="1347" y="661" width="1" height="3" fill="#000"/>
<text x="1346.5" y="676" font-family="DejaVu Sans" font-stretch="condensed" font-size="12.4" fill="#000">30 Oct 03:01</text>
<defs><clipPath id="plot"><rect x="3" y="3" width="1649" height="657"/></clipPath></defs>
</svg>
</body></html>
